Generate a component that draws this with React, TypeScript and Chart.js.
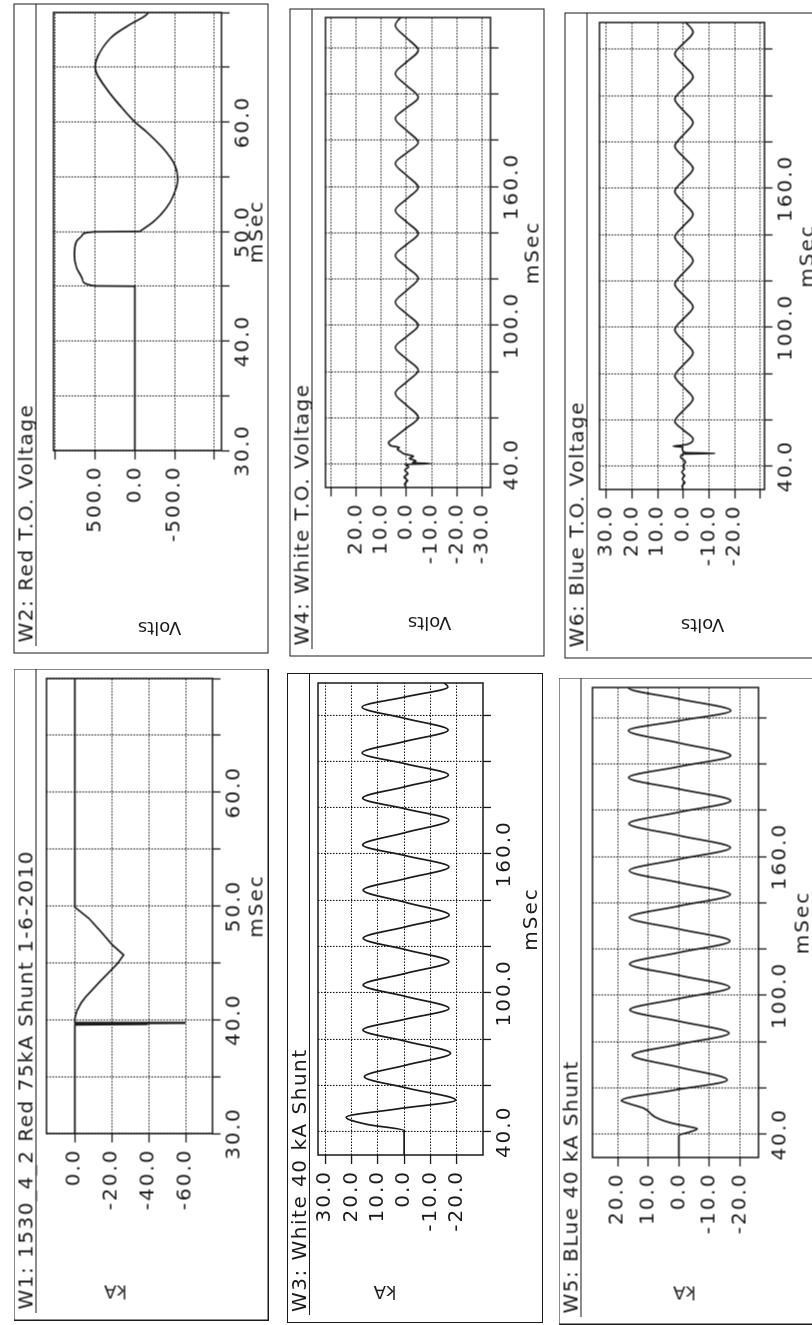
import React, { useEffect, useRef } from "react";
import { Chart, registerables } from "chart.js";

Chart.register(...registerables);

const INK = "#1a1a1a";
const FONT = "DejaVu Sans";

// ---------------- data (time in mSec) ----------------
// W2: Red T.O. Voltage (Volts) — step/bump part and the following wave
const W2_STEP_T = [30, 45.0, 45.03, 45.6, 46.7, 47.9, 49.1, 49.7, 49.97, 50.0];
const W2_STEP_V = [0, 0, 510, 660, 735, 762, 735, 660, 510, -60];
const W2_WAVE_T = [50.0, 51.0, 52.1, 53.2, 54.8, 56.1, 57.6, 59.1, 60.0, 61.5, 63.0, 64.4, 65.0, 66.4, 67.9, 68.9, 69.8, 70.5];
const W2_WAVE_V = [-60, -250, -390, -480, -540, -500, -354, -146, 0, 188, 354, 479, 500, 438, 271, 63, -146, -200];
const W2_TIME_GRID = [30, 35, 40, 45, 50, 55, 60, 65, 70];
const W2_TIME_LABELS = [30, 40, 50, 60];
const W2_VALUE_GRID = [-1000, -500, 0, 500, 1000];
const W2_VALUE_LABELS = [500, 0, -500];

// W1: Red 75kA Shunt (kA)
const W1_T = [30, 39.55, 39.6, 39.65, 39.7, 39.75, 40.1, 40.8, 41.5, 42.0, 43.4, 44.9, 45.7, 46.6, 47.8, 48.9, 49.9, 70];
const W1_V = [0, 0, -39, 0, -59.5, 0, 0, -1.2, -3.5, -5.9, -13.9, -22.9, -26.4, -20.2, -13.9, -7.7, 0, 0];
const W1_TIME_GRID = [30, 35, 40, 45, 50, 55, 60, 65, 70];
const W1_TIME_LABELS = [30, 40, 50, 60];
const W1_VALUE_GRID = [-60, -40, -20, 0];
const W1_VALUE_LABELS = [0, -20, -40, -60];

// W4: White T.O. Voltage (Volts)
const W4_T = [30, 31.5, 33, 34.5, 36, 37.5, 39, 40.0, 40.3, 40.7, 41.5, 42.5, 43.5, 44.5, 45.5, 46.5, 47.3, 48.0, 49.5, 50.5, 55.4, 60.3, 65.5, 70.7, 75.6, 80.6, 85.5, 90.5, 95.2, 100.0, 105.0, 110.0, 115.1, 120.3, 125.2, 130.2, 135.0, 139.7, 144.7, 149.7, 154.6, 159.6, 164.8, 170.0, 174.5, 179.0, 184.2, 189.4, 194.0, 198.5, 203.6, 208.8, 213.8, 218.8, 224.2, 229.6, 234];
const W4_V = [0, 0.7, -0.5, 0.9, -0.6, 0.6, -0.9, 0.4, -9.5, -2.5, -3.8, -1.2, -2.8, 0.8, 2.2, 3.6, 2.8, 6.0, 7.0, 6.0, 0.3, -4.7, -0.1, 4.4, -0.1, -4.7, -0.1, 4.4, -0.1, -4.7, -0.1, 4.4, -0.1, -4.7, -0.1, 4.4, -0.1, -4.7, -0.1, 4.4, -0.1, -4.7, -0.1, 4.4, -0.1, -4.7, -0.1, 4.4, -0.1, -4.7, -0.1, 4.4, -0.1, -4.7, -0.1, 4.4, 1.5];
const W4_TIME_GRID = [40, 60, 80, 100, 120, 140, 160, 180, 200, 220];
const W4_TIME_LABELS = [40, 100, 160];
const W4_VALUE_GRID = [-30, -20, -10, 0, 10, 20, 30];
const W4_VALUE_LABELS = [20, 10, 0, -10, -20, -30];

// W3: White 40 kA Shunt (kA)
const W3_T = [30, 40.5, 43.2, 46.3, 50.0, 53.7, 58.8, 63.8, 68.9, 73.9, 79.0, 84.0, 88.7, 93.3, 98.4, 103.4, 108.5, 113.5, 118.6, 123.6, 128.6, 133.6, 139.0, 144.4, 149.4, 154.4, 159.2, 163.9, 169.3, 174.6, 179.4, 184.1, 189.1, 194.1, 198.9, 203.6, 208.6, 213.5, 218.5, 223.4, 227.8, 232.1, 234];
const W3_V = [0, 0, 14, 22, 2, -19.5, -1.5, 15.1, -1, -17.6, -1, 15.7, -0.7, -17, -0.8, 15.6, -0.8, -17, -0.8, 15.6, -0.8, -17.1, -0.8, 15.6, -0.8, -17, -0.7, 15.8, -0.7, -17, -0.7, 15.8, -0.6, -16.8, -0.5, 16, -0.4, -16.7, -0.4, 16, -0.4, -16.6, -15];
const W3_TIME_GRID = [40, 60, 80, 100, 120, 140, 160, 180, 200, 220];
const W3_TIME_LABELS = [40, 100, 160];
const W3_VALUE_GRID = [-20, -10, 0, 10, 20, 30];
const W3_VALUE_LABELS = [30, 20, 10, 0, -10, -20];

// W6: Blue T.O. Voltage (Volts)
const W6_T = [30, 31.5, 33, 34.5, 36, 37.5, 39, 40.1, 42.0, 44.0, 45.3, 45.6, 45.9, 47.0, 48.3, 48.7, 49.1, 49.5, 51.7, 55.5, 59.4, 64.3, 69.2, 74.1, 79.0, 84.0, 89.0, 94.0, 99.0, 103.9, 108.8, 113.7, 118.6, 123.7, 128.8, 133.9, 139.0, 143.9, 148.8, 153.7, 158.7, 163.6, 168.5, 173.4, 178.2, 183.3, 188.4, 193.4, 198.5, 203.3, 208.2, 213.1, 218.0, 222.7, 227.4, 234];
const W6_V = [0, 0.5, -0.6, 0.4, -0.5, 0.6, -0.4, 0, -0.8, 1.0, 0, -12.3, -1.0, 0.3, 0.5, 3.9, 0.5, -1.5, -3.8, -0.2, 3.3, -0.2, -3.8, -0.2, 3.3, -0.2, -3.8, -0.2, 3.3, -0.2, -3.8, -0.2, 3.3, -0.2, -3.8, -0.2, 3.3, -0.2, -3.8, -0.2, 3.3, -0.2, -3.8, -0.2, 3.3, -0.2, -3.8, -0.2, 3.3, -0.2, -3.8, -0.2, 3.3, -0.2, -3.8, 1.5];
const W6_TIME_GRID = [40, 60, 80, 100, 120, 140, 160, 180, 200, 220];
const W6_TIME_LABELS = [40, 100, 160];
const W6_VALUE_GRID = [-30, -20, -10, 0, 10, 20, 30];
const W6_VALUE_LABELS = [30, 20, 10, 0, -10, -20];

// W5: Blue 40 kA Shunt (kA)
const W5_T = [30, 39.5, 41.0, 42.4, 43.4, 44.6, 45.7, 47.3, 48.9, 50.2, 51.3, 53.4, 54.6, 59.1, 63.5, 68.9, 74.2, 79.0, 83.7, 88.8, 93.8, 98.7, 103.5, 108.6, 113.6, 118.6, 123.5, 128.6, 133.7, 138.7, 143.6, 148.7, 153.9, 158.9, 163.8, 169.0, 174.2, 179.2, 184.1, 189.1, 194.1, 198.9, 203.6, 209.0, 214.4, 218.7, 223.0, 228.0, 232.9, 234];
const W5_V = [0, 0, -3.5, -6, -3, 1.5, 4.5, 7.5, 9.2, 10.2, 11.5, 16.6, 18.8, 1.5, -15.8, -0.4, 15.2, -0.5, -16.4, -0.3, 16, -0.3, -16.6, -0.3, 16.1, -0.3, -16.7, -0.3, 16.2, -0.3, -16.8, -0.3, 16.2, -0.3, -16.8, -0.3, 16.3, -0.3, -16.9, -0.3, 16.4, -0.3, -16.9, -0.3, 16.5, -0.3, -17, -0.3, 16.5, 16];
const W5_TIME_GRID = [40, 60, 80, 100, 120, 140, 160, 180, 200, 220];
const W5_TIME_LABELS = [40, 100, 160];
const W5_VALUE_GRID = [-20, -10, 0, 10, 20];
const W5_VALUE_LABELS = [20, 10, 0, -10, -20];

// ---------------- panels ----------------
type Series = { t: number[]; v: number[] };
type Cfg = {
  title: string;
  yTitle: string;
  yTitleU: number;
  yTitleV: number;
  sx: number; sy: number; sw: number; sh: number;
  px1: number; px2: number; py1: number; py2: number;
  series: Series[]; smooth: boolean;
  tMin: number; tMax: number; tGrid: number[]; tLabels: number[];
  yMin: number; yMax: number; yGrid: number[]; yLabels: number[];
};

const PANELS: Cfg[] = [
  {
    title: "W2: Red T.O. Voltage", yTitle: "Volts", yTitleU: 26, yTitleV: 146,
    sx: 13, sy: 3, sw: 255, sh: 650, px1: 53, px2: 221, py1: 12, py2: 450,
    series: [{ t: W2_STEP_T, v: W2_STEP_V }, { t: W2_WAVE_T, v: W2_WAVE_V }], smooth: true,
    tMin: 30, tMax: 70, tGrid: W2_TIME_GRID, tLabels: W2_TIME_LABELS,
    yMin: -1090, yMax: 1025, yGrid: W2_VALUE_GRID, yLabels: W2_VALUE_LABELS,
  },
  {
    title: "W1: 1530_4_2 Red 75kA Shunt 1-6-2010", yTitle: "kA", yTitleU: 29, yTitleV: 102,
    sx: 13, sy: 668, sw: 255, sh: 652, px1: 46, px2: 212, py1: 678, py2: 1133,
    series: [{ t: W1_T, v: W1_V }], smooth: false,
    tMin: 30, tMax: 70, tGrid: W1_TIME_GRID, tLabels: W1_TIME_LABELS,
    yMin: -74.5, yMax: 15.3, yGrid: W1_VALUE_GRID, yLabels: W1_VALUE_LABELS,
  },
  {
    title: "W4: White T.O. Voltage", yTitle: "Volts", yTitleU: 34, yTitleV: 140,
    sx: 289, sy: 8, sw: 255, sh: 648, px1: 325, px2: 490, py1: 17, py2: 487,
    series: [{ t: W4_T, v: W4_V }], smooth: true,
    tMin: 30, tMax: 233, tGrid: W4_TIME_GRID, tLabels: W4_TIME_LABELS,
    yMin: -33.3, yMax: 32, yGrid: W4_VALUE_GRID, yLabels: W4_VALUE_LABELS,
  },
  {
    title: "W3: White 40 kA Shunt", yTitle: "kA", yTitleU: 31, yTitleV: 98,
    sx: 287, sy: 673, sw: 256, sh: 650, px1: 318, px2: 483, py1: 683, py2: 1155,
    series: [{ t: W3_T, v: W3_V }], smooth: true,
    tMin: 30, tMax: 233.8, tGrid: W3_TIME_GRID, tLabels: W3_TIME_LABELS,
    yMin: -29.9, yMax: 32.7, yGrid: W3_VALUE_GRID, yLabels: W3_VALUE_LABELS,
  },
  {
    title: "W6: Blue T.O. Voltage", yTitle: "Volts", yTitleU: 34, yTitleV: 138,
    sx: 564, sy: 12, sw: 255, sh: 646, px1: 599, px2: 764, py1: 22, py2: 489,
    series: [{ t: W6_T, v: W6_V }], smooth: true,
    tMin: 30, tMax: 231.6, tGrid: W6_TIME_GRID, tLabels: W6_TIME_LABELS,
    yMin: -31.6, yMax: 32.6, yGrid: W6_VALUE_GRID, yLabels: W6_VALUE_LABELS,
  },
  {
    title: "W5: BLue 40 kA Shunt", yTitle: "kA", yTitleU: 32, yTitleV: 126,
    sx: 558, sy: 677, sw: 256, sh: 647, px1: 592, px2: 758, py1: 687, py2: 1157,
    series: [{ t: W5_T, v: W5_V }], smooth: true,
    tMin: 30, tMax: 233, tGrid: W5_TIME_GRID, tLabels: W5_TIME_LABELS,
    yMin: -26, yMax: 28.2, yGrid: W5_VALUE_GRID, yLabels: W5_VALUE_LABELS,
  },
];

const fmt = (n: number) => (Math.abs(n) < 1e-9 ? 0 : n).toFixed(1);
const has = (arr: number[], n: number) => arr.some((a) => Math.abs(a - n) < 1e-6);

const framePlugin = {
  id: "frame",
  afterDatasetsDraw(chart: any) {
    const { ctx, chartArea: a } = chart;
    ctx.save();
    ctx.setLineDash([]);
    ctx.strokeStyle = INK;
    ctx.lineWidth = 1.5;
    ctx.strokeRect(a.left, a.top, a.right - a.left, a.bottom - a.top);
    ctx.restore();
  },
};

const spacingPlugin = {
  id: "spacing",
  beforeDraw(chart: any) {
    try {
      chart.ctx.letterSpacing = "2px";
    } catch (e) {
      /* ignore */
    }
  },
};

function Panel({ c }: { c: Cfg }) {
  const ref = useRef<HTMLCanvasElement | null>(null);
  const W = c.sh;
  const H = c.sw;
  const uL = c.sh - (c.py2 - c.sy);
  const uR = c.sh - (c.py1 - c.sy);
  const vT = c.px1 - c.sx;
  const vB = c.px2 - c.sx;

  useEffect(() => {
    if (!ref.current) return;
    const tickFont = { family: FONT, size: 20, lineHeight: 1.2 };
    const gridStyle = { color: "#111111", lineWidth: 1.1, drawTicks: true, tickLength: 8, tickColor: INK, tickWidth: 1.3, tickBorderDash: [] };
    const chart = new Chart(ref.current, {
      type: "line",
      data: {
        datasets: c.series.map(
          (s) =>
            ({
              data: s.t.map((x, i) => ({ x, y: s.v[i] })),
              borderColor: INK,
              borderWidth: 1.7,
              pointRadius: 0,
              fill: false,
              tension: 0,
              cubicInterpolationMode: c.smooth ? "monotone" : "default",
            } as any)
        ),
      },
      options: {
        animation: false,
        responsive: false,
        maintainAspectRatio: false,
        devicePixelRatio: 1,
        events: [],
        layout: { padding: { left: 0, top: vT, right: W - uR, bottom: 0 } },
        plugins: { legend: { display: false }, tooltip: { enabled: false }, title: { display: false } },
        scales: {
          x: {
            type: "linear",
            position: "bottom",
            min: c.tMin,
            max: c.tMax,
            afterBuildTicks: (s: any) => {
              s.ticks = c.tGrid.map((value) => ({ value }));
            },
            afterFit: (s: any) => {
              s.height = H - vB;
            },
            ticks: {
              autoSkip: false,
              maxRotation: 0,
              minRotation: 0,
              padding: 2,
              color: INK,
              font: tickFont,
              callback: (val: any) => (has(c.tLabels, Number(val)) ? fmt(Number(val)) : ""),
            },
            grid: gridStyle,
            border: { display: false, dash: [1.5, 1.5] },
            title: { display: true, text: "mSec", color: INK, font: tickFont, padding: { top: 0, bottom: -1 } },
          },
          y: {
            type: "linear",
            position: "left",
            min: c.yMin,
            max: c.yMax,
            afterBuildTicks: (s: any) => {
              s.ticks = c.yGrid.map((value) => ({ value }));
            },
            afterFit: (s: any) => {
              s.width = uL;
            },
            ticks: {
              autoSkip: false,
              padding: 6,
              color: INK,
              font: tickFont,
              callback: (val: any) => (has(c.yLabels, Number(val)) ? fmt(Number(val)) : ""),
            },
            grid: { ...gridStyle, tickLength: 9 },
            border: { display: false, dash: [1.5, 1.5] },
            title: { display: false },
          },
        },
      } as any,
      plugins: [spacingPlugin, framePlugin],
    });
    return () => chart.destroy();
  }, []);

  const cx = c.sx + c.sw / 2;
  const cy = c.sy + c.sh / 2;

  return (
    <div
      style={{
        position: "absolute",
        left: cx - W / 2,
        top: cy - H / 2,
        width: W,
        height: H,
        transform: "rotate(-90deg)",
        transformOrigin: "50% 50%",
      }}
    >
      <canvas ref={ref} width={W} height={H} style={{ position: "absolute", left: 0, top: 0, width: W, height: H }} />
      <div
        style={{
          position: "absolute",
          left: 11,
          top: 0,
          font: `20px "${FONT}"`,
          lineHeight: "24px",
          letterSpacing: "1.5px",
          color: INK,
          whiteSpace: "nowrap",
        }}
      >
        {c.title}
      </div>
      <div style={{ position: "absolute", left: 8, right: 0, top: 22, height: 0, borderTop: `1.5px solid ${INK}` }} />
      <div
        style={{
          position: "absolute",
          left: c.yTitleU,
          top: c.yTitleV,
          transform: "translate(-50%, -50%) rotate(-90deg)",
          font: `18px "${FONT}"`,
          lineHeight: "20px",
          color: INK,
          whiteSpace: "nowrap",
        }}
      >
        {c.yTitle}
      </div>
      <div style={{ position: "absolute", left: 0, top: 0, width: W, height: H, border: `1.5px solid ${INK}`, boxSizing: "border-box" }} />
    </div>
  );
}

export default function App() {
  return (
    <div
      style={{
        position: "absolute",
        left: 0,
        top: 0,
        width: 812,
        height: 1325,
        overflow: "hidden",
        background: "#ffffff",
      }}
    >
      {PANELS.map((c, i) => (
        <Panel key={i} c={c} />
      ))}
    </div>
  );
}
